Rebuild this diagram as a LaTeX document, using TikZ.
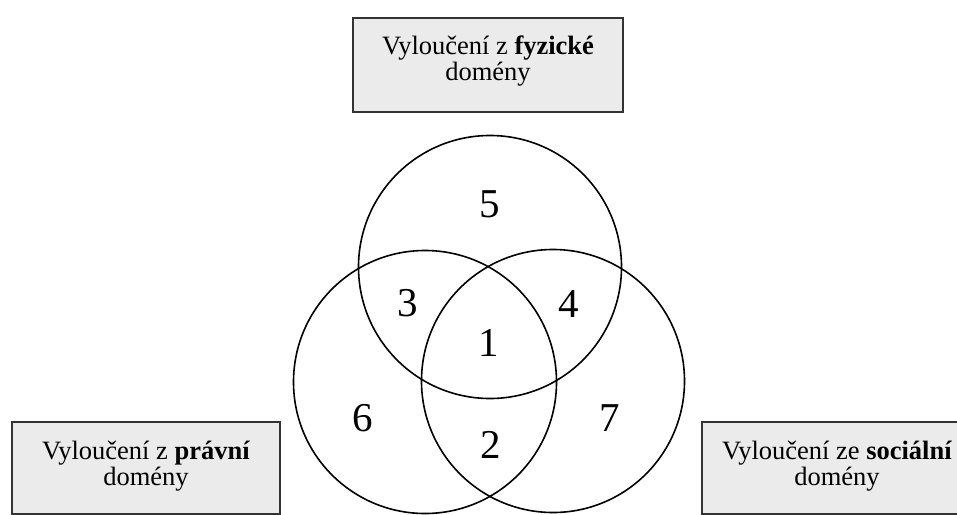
\documentclass[tikz,border=0pt]{standalone}
\usepackage{fontspec}
\setmainfont{Liberation Serif}
\definecolor{boxfill}{HTML}{EBEBEB}
\definecolor{boxline}{HTML}{333333}
\tikzset{
  setbox/.style={draw=boxline, line width=1.6pt, fill=boxfill, inner sep=0pt},
  boxtext/.style={align=center, inner sep=0pt, font=\fontsize{26.5}{25.5}\selectfont},
  setcircle/.style={draw=black, line width=1.6pt, circle, inner sep=0pt, minimum size=263pt},
  region/.style={font=\fontsize{41}{41}\selectfont, inner sep=0pt}
}
\begin{document}
\begin{tikzpicture}[x=1pt,y=-1pt]
\useasboundingbox (0,0) rectangle (957,514);
\clip (0,0) rectangle (957,514);
\fill[white] (0,0) rectangle (957,514);
% boxes
\node[setbox, minimum width=270pt, minimum height=94pt] (fyz) at (488,65) {};
\node[boxtext] (fyzt) at (488,61) {Vyloučení z \textbf{fyzické}\\domény};
\node[setbox, minimum width=268pt, minimum height=92pt] (prav) at (146,468) {};
\node[boxtext] (pravt) at (146,466) {Vyloučení z \textbf{právní}\\domény};
\node[setbox, minimum width=276pt, minimum height=92pt] (soc) at (840,468) {};
\node[boxtext] (soct) at (837,466) {Vyloučení ze \textbf{sociální}\\domény};
% circles
\node[setcircle] (cf) at (490,267) {};
\node[setcircle] (cp) at (425,382) {};
\node[setcircle] (cs) at (553,381) {};
% region labels
\node[region] (r5) at (490,204) {5};
\node[region] (r3) at (408,303) {3};
\node[region] (r4) at (569,304) {4};
\node[region] (r1) at (489,343) {1};
\node[region] (r6) at (363,418) {6};
\node[region] (r2) at (491,445) {2};
\node[region] (r7) at (610,418) {7};
\end{tikzpicture}
\end{document}
